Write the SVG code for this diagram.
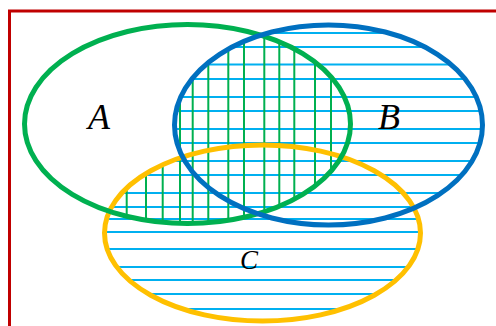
<svg xmlns="http://www.w3.org/2000/svg" width="496" height="326" viewBox="0 0 496 326">
  <style>
    .set { fill: none; stroke-width: 5; }
    .hl { stroke: #00b0f0; stroke-width: 2; }
    .vl { stroke: #00b050; stroke-width: 2; }
    .lbl { font-family: "Liberation Serif", "Times New Roman", serif; font-style: italic; fill: #000; }
  </style>
  <defs>
    <clipPath id="clipBC">
      <ellipse cx="328.5" cy="125" rx="154" ry="100"/>
      <ellipse cx="262.5" cy="233" rx="158" ry="88"/>
    </clipPath>
    <clipPath id="clipA">
      <ellipse cx="187.5" cy="124" rx="163" ry="99.5"/>
    </clipPath>
  </defs>
  <rect width="496" height="326" fill="#fff"/>
  <g id="frame">
    <path d="M9.5,326 V11 H496" fill="none" stroke="#c00000" stroke-width="3"/>
  </g>
  <g id="hatch">
    <g id="hatch-union" clip-path="url(#clipBC)">
      <line class="hl" x1="100" x2="490" y1="33" y2="33"/>
      <line class="hl" x1="100" x2="490" y1="47" y2="47"/>
      <line class="hl" x1="100" x2="490" y1="64.5" y2="64.5"/>
      <line class="hl" x1="100" x2="490" y1="79" y2="79"/>
      <line class="hl" x1="100" x2="490" y1="97" y2="97"/>
      <line class="hl" x1="100" x2="490" y1="111" y2="111"/>
      <line class="hl" x1="100" x2="490" y1="129" y2="129"/>
      <line class="hl" x1="100" x2="490" y1="143" y2="143"/>
      <line class="hl" x1="100" x2="490" y1="161" y2="161"/>
      <line class="hl" x1="100" x2="490" y1="175" y2="175"/>
      <line class="hl" x1="100" x2="490" y1="193" y2="193"/>
      <line class="hl" x1="100" x2="490" y1="207" y2="207"/>
      <line class="hl" x1="100" x2="490" y1="219" y2="219"/>
      <line class="hl" x1="100" x2="490" y1="232" y2="232"/>
      <line class="hl" x1="100" x2="490" y1="249" y2="249"/>
      <line class="hl" x1="100" x2="490" y1="267" y2="267"/>
      <line class="hl" x1="100" x2="490" y1="280" y2="280"/>
      <line class="hl" x1="100" x2="490" y1="294" y2="294"/>
      <line class="hl" x1="100" x2="490" y1="309" y2="309"/>
    </g>
    <g id="hatch-intersection" clip-path="url(#clipA)">
      <g clip-path="url(#clipBC)">
        <line class="vl" x1="126.7" x2="126.7" y1="20" y2="230"/>
        <line class="vl" x1="146" x2="146" y1="20" y2="230"/>
        <line class="vl" x1="162.7" x2="162.7" y1="20" y2="230"/>
        <line class="vl" x1="180" x2="180" y1="20" y2="230"/>
        <line class="vl" x1="192.7" x2="192.7" y1="20" y2="230"/>
        <line class="vl" x1="208.3" x2="208.3" y1="20" y2="230"/>
        <line class="vl" x1="228.3" x2="228.3" y1="20" y2="230"/>
        <line class="vl" x1="244" x2="244" y1="20" y2="230"/>
        <line class="vl" x1="264.3" x2="264.3" y1="20" y2="230"/>
        <line class="vl" x1="279.3" x2="279.3" y1="20" y2="230"/>
        <line class="vl" x1="294.3" x2="294.3" y1="20" y2="230"/>
        <line class="vl" x1="315" x2="315" y1="20" y2="230"/>
        <line class="vl" x1="331" x2="331" y1="20" y2="230"/>
      </g>
    </g>
  </g>
  <g id="node-C">
    <ellipse class="set" cx="262.5" cy="233" rx="158" ry="88" stroke="#ffc000"/>
    <text class="lbl" x="240" y="269" font-size="27">C</text>
  </g>
  <g id="node-A">
    <ellipse class="set" cx="187.5" cy="124" rx="163" ry="99.5" stroke="#00b050"/>
    <text class="lbl" x="88" y="129" font-size="36">A</text>
  </g>
  <g id="node-B">
    <ellipse class="set" cx="328.5" cy="125" rx="154" ry="100" stroke="#0070c0"/>
    <text class="lbl" x="378" y="129" font-size="36">B</text>
  </g>
</svg>
